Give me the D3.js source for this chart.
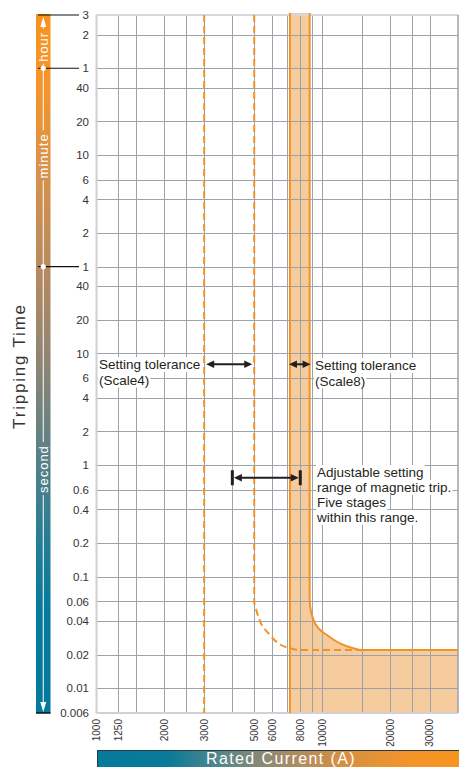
<!DOCTYPE html>
<html><head><meta charset="utf-8">
<script src="https://cdn.jsdelivr.net/npm/d3@7"></script>
<style>
body{margin:0;background:#fff;}
svg{display:block;font-family:Arial,"Liberation Sans",sans-serif;}
</style></head><body>
<svg id="c" width="459" height="767"></svg>
<script>
// ---------- data ----------
const currentDomain = [1000, 40000];          // A
const timeDomain = [0.006, 10800];            // s
const xTickValues = [1000, 1250, 2000, 3000, 5000, 6000, 8000, 10000, 20000, 30000];
const xTickLabels = ["1000", "1250", "2000", "3000", "5000", "6000", "8000", "10000", "20000", "30000"];
const xGridValues = [1250, 1500, 2000, 2500, 3000, 4000, 5000, 6000, 7000, 8000, 9000, 10000, 15000, 20000, 25000, 30000];
const yTickValues = [10800, 7200, 3600, 2400, 1200, 600, 360, 240, 120, 60, 40, 20, 10, 6, 4, 2, 1, 0.6, 0.4, 0.2, 0.1, 0.06, 0.04, 0.02, 0.01, 0.006];
const yTickLabels = ["3", "2", "1", "40", "20", "10", "6", "4", "2", "1", "40", "20", "10", "6", "4", "2", "1", "0.6", "0.4", "0.2", "0.1", "0.06", "0.04", "0.02", "0.01", "0.006"];
const unitBoundaries = [10800, 3600, 60];     // 3 h, 1 h, 1 min
const unitDots = [3600, 60];
const unitNames = ["hour", "minute", "second"];
const unitCenters = [5600, 590, 0.92];        // s, where each unit name sits
const scale8Band = [7200, 8800];              // setting 8000 A ±10 %
const scale4Lines = [3000, 5000];             // setting tolerance (Scale4)
const adjustRange = [4000, 8000];
const adjustTime = 0.77;
const toleranceTime = 8;
// upper setting trip curve (solid) [current A, time s]
const solidCurve = [[8800, 10800], [8800, 0.066], [8850, 0.054], [9150, 0.041], [9700, 0.034], [10500, 0.030], [12000, 0.0252], [13750, 0.0228], [15000, 0.022], [40000, 0.022]];
// lower setting trip curve (dashed)
const dashedCurve = [[5000, 10800], [5000, 0.058], [5320, 0.0394], [5785, 0.031], [6405, 0.0252], [7210, 0.0228], [8000, 0.022], [15000, 0.022]];
const scale4Text = ["Setting tolerance", "(Scale4)"];
const scale8Text = ["Setting tolerance", "(Scale8)"];
const rangeText = ["Adjustable setting", "range of magnetic trip.", "Five stages", "within this range."];
const xTitle = "Rated Current (A)";
const yTitle = "Tripping Time";

// ---------- setup ----------
const svg = d3.select("#c");
const pL = 96.5, pR = 458, pT = 15, pB = 713;
const x = d3.scaleLog().domain(currentDomain).range([pL, pR]);
const y = d3.scaleLog().domain(timeDomain).range([pB, pT]);
const orange = "#f39224", fillOr = "#f6cc9f", grid = "#9ca2a9", ink = "#231f20";

const defs = svg.append("defs");
const vg = defs.append("linearGradient").attr("id", "vg").attr("x1", 0).attr("y1", 0).attr("x2", 0).attr("y2", 1);
[[0, "#f7941d"], [0.1, "#f5952a"], [0.22, "#d8924a"], [0.36, "#b88a5e"], [0.5, "#8d8574"], [0.62, "#5f8085"], [0.76, "#237d95"], [0.86, "#057a9c"], [1, "#03799c"]]
  .forEach(s => vg.append("stop").attr("offset", s[0]).attr("stop-color", s[1]));
const hg = defs.append("linearGradient").attr("id", "hg").attr("x1", 0).attr("y1", 0).attr("x2", 1).attr("y2", 0);
[[0, "#03799c"], [0.2, "#0a7b99"], [0.33, "#4f868c"], [0.5, "#9c8a6c"], [0.68, "#d69042"], [0.86, "#f3942a"], [1, "#f7941d"]]
  .forEach(s => hg.append("stop").attr("offset", s[0]).attr("stop-color", s[1]));

// ---------- plot background & fill ----------
svg.append("rect").attr("x", pL).attr("y", pT).attr("width", pR - pL).attr("height", pB - pT).attr("fill", "#fff");

// vertical part straight, knee and tail with a monotone curve (no overshoot)
const knee = d3.line().x(d => x(d[0])).y(d => y(d[1])).curve(d3.curveMonotoneX);
function tripPath(pts, yTop) {
  return `M${x(pts[0][0])},${yTop}L` + knee(pts.slice(1)).slice(1);
}
const solidD = tripPath(solidCurve, pT - 2);
const fillD = `M${x(scale8Band[0])},${pT - 2}L` + solidD.slice(1) +
  `L${x(currentDomain[1])},${y(timeDomain[0])}L${x(scale8Band[0])},${y(timeDomain[0])}Z`;
svg.append("path").attr("d", fillD).attr("fill", fillOr);

// ---------- grid ----------
const gg = svg.append("g");
gg.selectAll("line.h").data(yTickValues.slice(1, -1)).join("line")
  .attr("x1", pL).attr("x2", pR).attr("y1", d => Math.round(y(d)) + 0.5).attr("y2", d => Math.round(y(d)) + 0.5)
  .attr("stroke", grid).attr("stroke-width", 1);
gg.selectAll("line.v").data(xGridValues).join("line")
  .attr("y1", pT).attr("y2", pB).attr("x1", d => Math.round(x(d)) + 0.5).attr("x2", d => Math.round(x(d)) + 0.5)
  .attr("stroke", grid).attr("stroke-width", 1);
// frame
svg.append("line").attr("x1", pL).attr("x2", pR).attr("y1", pT).attr("y2", pT).attr("stroke", "#d6d6dc").attr("stroke-width", 2);
svg.append("line").attr("x1", pL).attr("x2", pR).attr("y1", pB).attr("y2", pB).attr("stroke", "#d0d0d6").attr("stroke-width", 2);
svg.append("line").attr("x1", pL).attr("x2", pL).attr("y1", pT).attr("y2", pB).attr("stroke", "#d0d0d6").attr("stroke-width", 2);
svg.append("line").attr("x1", pR).attr("x2", pR).attr("y1", pT).attr("y2", pB).attr("stroke", grid).attr("stroke-width", 1.5);

// ---------- curves ----------
svg.append("line").attr("x1", x(scale4Lines[0])).attr("x2", x(scale4Lines[0])).attr("y1", pT).attr("y2", pB)
  .attr("stroke", orange).attr("stroke-width", 2).attr("stroke-dasharray", "7,4");
svg.append("path").attr("d", tripPath(dashedCurve, pT)).attr("fill", "none").attr("stroke", orange).attr("stroke-width", 2).attr("stroke-dasharray", "7,4");
svg.append("line").attr("x1", x(scale8Band[0])).attr("x2", x(scale8Band[0])).attr("y1", pT - 2).attr("y2", pB)
  .attr("stroke", orange).attr("stroke-width", 2);
svg.append("path").attr("d", solidD).attr("fill", "none").attr("stroke", orange).attr("stroke-width", 2);

// ---------- left unit bar ----------
const barX = 36, barW = 14.5, barC = barX + barW / 2;
svg.append("rect").attr("x", barX).attr("y", pT - 1).attr("width", barW).attr("height", pB - pT + 1).attr("fill", "url(#vg)");
const unitG = svg.append("g");
const gaps = [];
unitNames.forEach((n, i) => {
  const cy = y(unitCenters[i]);
  const t = unitG.append("text").attr("transform", `translate(${barC + 4.5},${cy}) rotate(-90)`)
    .attr("text-anchor", "middle").attr("fill", "#fff").attr("font-size", 13).attr("letter-spacing", 1).text(n);
  const L = t.node().getComputedTextLength();
  gaps.push([cy - L / 2 - 3, cy + L / 2 + 2]);
});
let segStart = pT + 10;
const segs = [];
gaps.forEach(g => { segs.push([segStart, g[0]]); segStart = g[1]; });
segs.push([segStart, pB - 8]);
segs.forEach(s => svg.append("line").attr("x1", barC).attr("x2", barC).attr("y1", s[0]).attr("y2", s[1]).attr("stroke", "#fff").attr("stroke-width", 1));
svg.append("path").attr("d", `M${barC},${pT + 2}L${barC - 3},${pT + 12}L${barC + 3},${pT + 12}Z`).attr("fill", "#fff");
svg.append("path").attr("d", `M${barC},${pB - 1}L${barC - 3},${pB - 11}L${barC + 3},${pB - 11}Z`).attr("fill", "#fff");
unitBoundaries.forEach(v => svg.append("line").attr("x1", 38).attr("x2", 79).attr("y1", y(v)).attr("y2", y(v)).attr("stroke", "#111").attr("stroke-width", 1.2));
svg.append("line").attr("x1", barX).attr("x2", barX + barW).attr("y1", pB).attr("y2", pB).attr("stroke", "#111").attr("stroke-width", 1.5);
unitDots.forEach(v => svg.append("circle").attr("cx", barC).attr("cy", y(v)).attr("r", 2.6).attr("fill", "#fff"));

// ---------- axis labels ----------
svg.append("g").selectAll("text").data(yTickValues).join("text")
  .attr("x", 89).attr("y", d => y(d)).attr("dy", "0.36em").attr("text-anchor", "end")
  .attr("font-size", 11.5).attr("fill", "#333").text((d, i) => yTickLabels[i]);
svg.append("g").selectAll("text").data(xTickValues).join("text")
  .attr("transform", d => `translate(${x(d)},719) rotate(-90)`).attr("dy", "0.36em").attr("text-anchor", "end")
  .attr("font-size", 10).attr("fill", "#333").text((d, i) => xTickLabels[i]);

svg.append("text").attr("transform", `translate(25,366) rotate(-90)`).attr("text-anchor", "middle")
  .attr("font-size", 17).attr("letter-spacing", 1.8).attr("fill", "#333").text(yTitle);

svg.append("rect").attr("x", 97).attr("y", 750).attr("width", 362).attr("height", 20).attr("fill", "url(#hg)");
svg.append("path").attr("d", "M97.5,767V750.5H459").attr("fill", "none").attr("stroke", "#2b3b42").attr("stroke-width", 1);
svg.append("text").attr("x", 281).attr("y", 764).attr("text-anchor", "middle").attr("font-size", 16)
  .attr("letter-spacing", 1.4).attr("fill", "#fff").text(xTitle);

// ---------- annotations ----------
function label(lines, x0, y0, dy) {
  const g = svg.append("g").attr("font-size", 13.5).attr("fill", ink);
  lines.forEach((s, i) => {
    const r = g.append("rect").attr("fill", "#fff");
    const t = g.append("text").attr("x", x0).attr("y", y0 + i * dy).text(s);
    const b = t.node().getBBox();
    r.attr("x", b.x - 1).attr("y", b.y).attr("width", b.width + 2).attr("height", b.height);
  });
}
function dblArrow(xa, xb, yy, inset) {
  const a = xa + inset, b = xb - inset, hl = 8, hw = 3.8;
  svg.append("line").attr("x1", a + hl - 1).attr("x2", b - hl + 1).attr("y1", yy).attr("y2", yy).attr("stroke", ink).attr("stroke-width", 2);
  svg.append("path").attr("d", `M${a},${yy}L${a + hl},${yy - hw}L${a + hl},${yy + hw}Z`).attr("fill", ink);
  svg.append("path").attr("d", `M${b},${yy}L${b - hl},${yy - hw}L${b - hl},${yy + hw}Z`).attr("fill", ink);
}
label(scale4Text, 99, 369, 15.5);
label(scale8Text, 315, 370, 15.5);
label(rangeText, 317, 477, 15);

const ty = y(toleranceTime);
dblArrow(x(scale4Lines[0]), x(scale4Lines[1]), ty, 2);
dblArrow(x(scale8Band[0]), x(scale8Band[1]), ty, -1);
const ay = y(adjustTime);
dblArrow(x(adjustRange[0]) + 1.5, x(adjustRange[1]) - 1.5, ay, 0);
adjustRange.forEach(v => svg.append("line").attr("x1", x(v)).attr("x2", x(v)).attr("y1", ay - 7.5).attr("y2", ay + 7.5).attr("stroke", ink).attr("stroke-width", 3));
</script>
</body></html>
